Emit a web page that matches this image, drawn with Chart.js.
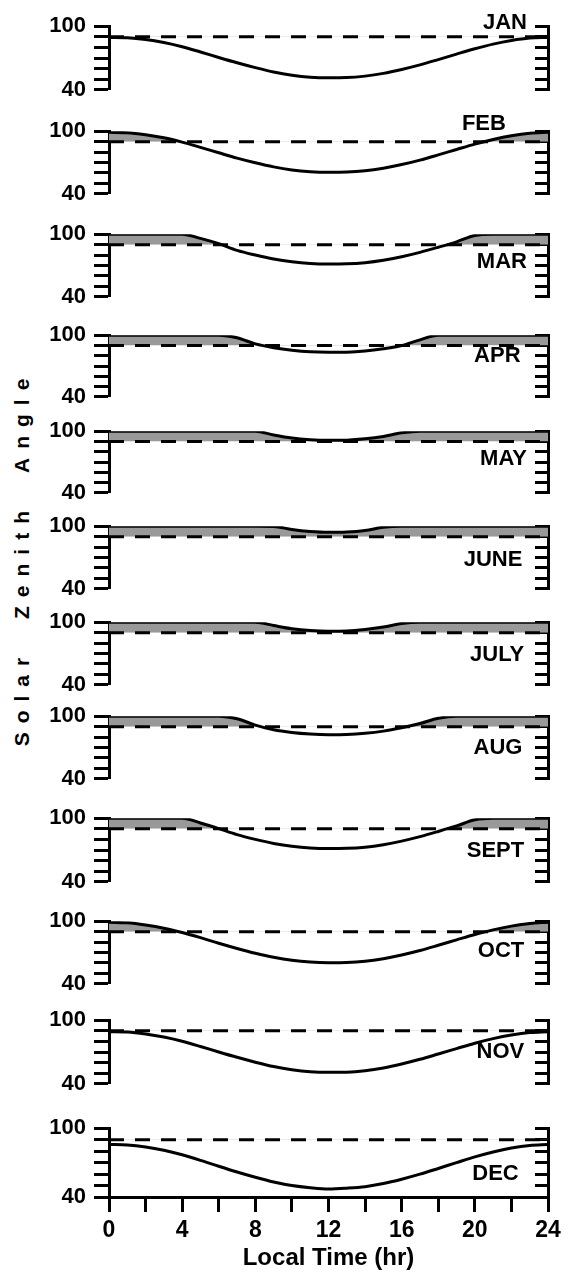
<!DOCTYPE html>
<html>
<head>
<meta charset="utf-8">
<script src="https://cdn.jsdelivr.net/npm/chart.js@4.4.1/dist/chart.umd.min.js"></script>
<style>
  body { margin: 0; background: #fff; width: 571px; height: 1279px; position: relative; overflow: hidden; }
  canvas { position: absolute; left: 0; }
  #ytitle {
    position: absolute; left: 22px; top: 558px;
    transform: translate(-50%, -50%) rotate(-90deg);
    white-space: nowrap; color: #000;
    font: bold 21px "Liberation Sans", Arial, sans-serif;
    letter-spacing: 9px; word-spacing: 15px;
  }
</style>
</head>
<body>
<div id="ytitle">Solar Zenith Angle</div>
<script>
// local time (hr)
const hours = [0, 1, 2, 3, 4, 5, 6, 7, 8, 9, 10, 11, 12, 13, 14, 15, 16, 17, 18, 19, 20, 21, 22, 23, 24];
const months = ['JAN', 'FEB', 'MAR', 'APR', 'MAY', 'JUNE', 'JULY', 'AUG', 'SEPT', 'OCT', 'NOV', 'DEC'];
const threshold = 90;

// solar zenith angle (deg), curve tops out at 100
const jan = [89.4, 89.1, 87.5, 84.6, 80.6, 75.7, 70.5, 65.5, 60.9, 56.8, 53.8, 51.9, 51.3, 51.5, 52.9, 55.5, 59.2, 63.5, 68.5, 73.7, 78.7, 83.1, 86.5, 88.8, 89.4];
const feb = [98.9, 98.6, 96.7, 93.7, 89.5, 84.5, 79.3, 74.2, 69.7, 65.8, 62.9, 61.2, 60.6, 60.8, 62.0, 64.5, 68.0, 72.3, 77.3, 82.5, 87.6, 92.1, 95.7, 98.1, 98.9];
const mar = [100, 100, 100, 100, 100, 96.0, 90.9, 84.5, 80.0, 76.2, 73.5, 71.9, 71.4, 71.6, 72.7, 75.0, 78.4, 82.6, 87.5, 92.7, 98.8, 100, 100, 100, 100];
const apr = [100, 100, 100, 100, 100, 100, 100, 97.5, 91.5, 87.8, 85.3, 83.8, 83.4, 83.5, 84.5, 86.7, 89.9, 95.5, 100, 100, 100, 100, 100, 100, 100];
const may = [100, 100, 100, 100, 100, 100, 100, 100, 100, 96.3, 93.3, 91.7, 91.1, 91.3, 92.6, 94.9, 98.4, 100, 100, 100, 100, 100, 100, 100, 100];
const june = [100, 100, 100, 100, 100, 100, 100, 100, 100, 99.8, 96.8, 94.9, 94.1, 94.4, 95.9, 99.0, 100, 100, 100, 100, 100, 100, 100, 100, 100];
const july = [100, 100, 100, 100, 100, 100, 100, 100, 100, 96.8, 93.8, 92.0, 91.3, 91.5, 92.9, 95.3, 98.8, 100, 100, 100, 100, 100, 100, 100, 100];
const aug = [100, 100, 100, 100, 100, 100, 100, 97.5, 91.5, 87.0, 84.4, 82.9, 82.3, 82.5, 83.6, 85.7, 89.0, 93.0, 98.0, 100, 100, 100, 100, 100, 100];
const sept = [100, 100, 100, 100, 100, 95.5, 90.2, 84.5, 80.0, 76.2, 73.5, 71.9, 71.4, 71.6, 72.7, 75.0, 78.4, 82.6, 87.5, 92.7, 98.5, 100, 100, 100, 100];
const oct = [99.0, 98.4, 96.3, 93.3, 89.1, 84.2, 78.9, 73.9, 69.3, 65.4, 62.5, 60.8, 60.2, 60.4, 61.6, 64.1, 67.6, 71.9, 76.9, 82.1, 87.2, 91.7, 95.3, 97.9, 99.0];
const nov = [89.1, 88.8, 87.0, 84.1, 80.1, 75.2, 70.0, 65.0, 60.4, 56.3, 53.3, 51.4, 50.8, 51.0, 52.4, 55.0, 58.7, 63.1, 68.1, 73.2, 78.3, 82.6, 86.0, 88.3, 89.1];
const dec = [85.8, 85.4, 83.7, 80.8, 76.8, 72.0, 66.8, 61.8, 57.2, 53.1, 50.0, 48.1, 47.0, 47.7, 49.0, 51.7, 55.5, 59.9, 64.9, 70.0, 75.0, 79.3, 82.7, 84.9, 85.7];
const series = [jan, feb, mar, apr, may, june, july, aug, sept, oct, nov, dec];

// page layout: pixel rows of the 100 and 40 ticks of each panel
const panelTop = [21, 126, 229, 330, 426, 521, 617, 711, 813, 916, 1015, 1123];
const panelBottom = [95, 199, 302, 402, 498, 594, 690, 784, 887, 989, 1089, 1197];
// where each month name sits (hour of its right edge, angle of its middle)
const labelAt = [[22.85, 103], [21.7, 107], [22.85, 73], [22.5, 80], [22.85, 73.4], [22.6, 68],
                 [22.7, 68.6], [22.6, 69.7], [22.7, 69.2], [22.7, 71.1], [22.7, 70], [22.4, 60]];

const FONT = '"Liberation Sans", Arial, sans-serif';
const PAD = 16;
const W = 571;

const monthLabel = {
  id: 'monthLabel',
  afterDatasetsDraw(chart, args, opts) {
    const { ctx, scales: { x, y } } = chart;
    ctx.save();
    ctx.font = 'bold 22px ' + FONT;
    ctx.fillStyle = '#000';
    ctx.textAlign = 'right';
    ctx.textBaseline = 'middle';
    ctx.fillText(opts.text, x.getPixelForValue(opts.at[0]), y.getPixelForValue(opts.at[1]));
    ctx.restore();
  }
};

months.forEach((name, i) => {
  const last = i === months.length - 1;
  const top = panelTop[i] - PAD;
  const h = last ? 1279 - top : panelBottom[i] - panelTop[i] + 2 * PAD;
  const cv = document.createElement('canvas');
  cv.width = W; cv.height = h;
  cv.style.top = top + 'px';
  cv.style.width = W + 'px'; cv.style.height = h + 'px';
  document.body.appendChild(cv);

  new Chart(cv, {
    type: 'line',
    data: {
      datasets: [
        {
          data: [{ x: hours[0], y: threshold }, { x: hours[hours.length - 1], y: threshold }],
          borderColor: '#000', borderWidth: 3, borderDash: [15, 11], fill: false
        },
        {
          data: hours.map((t, k) => ({ x: t, y: series[i][k] })),
          borderColor: '#000', borderWidth: 3,
          cubicInterpolationMode: 'monotone',
          fill: { target: { value: threshold }, above: '#999999', below: 'rgba(0,0,0,0)' }
        }
      ]
    },
    options: {
      responsive: false,
      animation: false,
      devicePixelRatio: 1,
      layout: { padding: { top: PAD, bottom: last ? 6 : PAD, left: 0, right: 0 } },
      elements: { point: { radius: 0 } },
      plugins: {
        legend: { display: false },
        tooltip: { enabled: false },
        monthLabel: { text: name, at: labelAt[i] }
      },
      scales: {
        x: {
          type: 'linear', min: 0, max: 24, display: last,
          ticks: {
            stepSize: 2, autoSkip: false, maxRotation: 0, padding: 5, color: '#000',
            font: { family: FONT, size: 23, weight: 'bold' },
            callback: v => (v % 4 === 0 ? v : '')
          },
          grid: { drawOnChartArea: false, drawTicks: true, tickLength: 15, tickWidth: 3, color: '#000' },
          border: { display: true, width: 3, color: '#000' },
          title: {
            display: true, text: 'Local Time (hr)', color: '#000', padding: { top: 0, bottom: 0 },
            font: { family: FONT, size: 24, weight: 'bold' }
          },
          afterFit(s) { if (last) s.height = 1279 - 6 - panelBottom[i]; }
        },
        y: {
          position: 'left', min: 40, max: 100,
          ticks: {
            stepSize: 10, autoSkip: false, padding: 8, color: '#000',
            font: { family: FONT, size: 22, weight: 'bold' },
            callback: v => (v === 100 || v === 40 ? v : '')
          },
          grid: { drawOnChartArea: false, drawTicks: true, tickLength: 15, tickWidth: 3, color: '#000' },
          border: { display: true, width: 3, color: '#000' },
          afterFit(s) { s.width = 109; }
        },
        y2: {
          position: 'right', min: 40, max: 100,
          ticks: { stepSize: 10, display: false },
          grid: { drawOnChartArea: false, drawTicks: true, tickLength: -13, tickWidth: 3, color: '#000' },
          border: { display: true, width: 3, color: '#000' },
          afterFit(s) { s.width = 23; }
        }
      }
    },
    plugins: [monthLabel]
  });
});
</script>
</body>
</html>
